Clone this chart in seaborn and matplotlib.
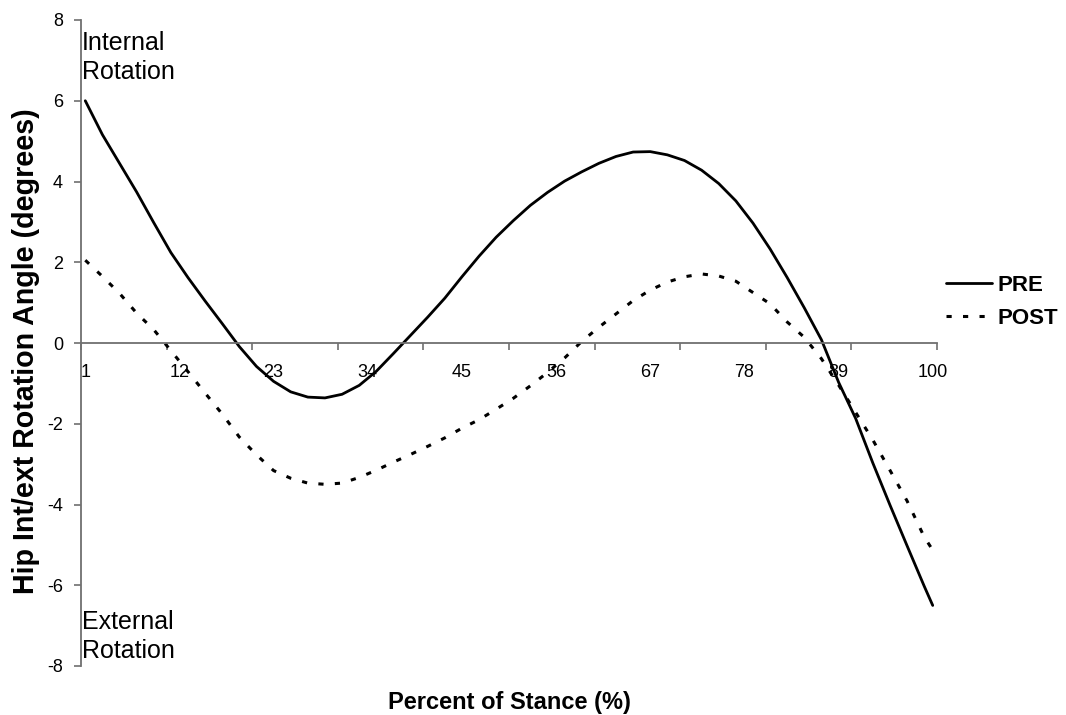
import numpy as np
import pandas as pd
import matplotlib
matplotlib.use("Agg")
import matplotlib.pyplot as plt
import seaborn as sns

# ---- data ----
percent = [1, 3, 5, 7, 9, 11, 13, 15, 17, 19, 21, 23, 25, 27, 29, 31, 33, 35,
           37, 39, 41, 43, 45, 47, 49, 51, 53, 55, 57, 59, 61, 63, 65, 67, 69,
           71, 73, 75, 77, 79, 81, 83, 85, 87, 89, 91, 93, 95, 97, 99, 100]
pre = [6.00, 5.16, 4.45, 3.74, 2.98, 2.24, 1.62, 1.04, 0.48, -0.09, -0.58,
       -0.95, -1.21, -1.34, -1.36, -1.27, -1.05, -0.70, -0.26, 0.19, 0.64,
       1.11, 1.64, 2.15, 2.62, 3.03, 3.41, 3.73, 4.01, 4.24, 4.45, 4.62, 4.73,
       4.74, 4.66, 4.52, 4.28, 3.95, 3.52, 2.97, 2.33, 1.62, 0.87, 0.08,
       -0.97, -1.87, -2.97, -4.01, -5.02, -6.02, -6.50]
post = [2.05, 1.65, 1.23, 0.74, 0.33, -0.19, -0.71, -1.24, -1.76, -2.33,
        -2.77, -3.16, -3.35, -3.47, -3.50, -3.47, -3.33, -3.15, -2.95, -2.76,
        -2.56, -2.35, -2.11, -1.90, -1.64, -1.37, -1.06, -0.73, -0.37, 0.04,
        0.39, 0.72, 1.05, 1.31, 1.51, 1.64, 1.71, 1.66, 1.53, 1.25, 0.97, 0.52,
        0.14, -0.39, -1.04, -1.72, -2.40, -3.15, -3.91, -4.80, -5.13]
xtick_labels = [1, 12, 23, 34, 45, 56, 67, 78, 89, 100]
yticks = [-8, -6, -4, -2, 0, 2, 4, 6, 8]

df = pd.DataFrame({"Percent": percent, "PRE": pre, "POST": post})

sns.set_style("white")
plt.rcParams["font.family"] = ["Liberation Sans", "DejaVu Sans"]
plt.rcParams["text.color"] = "black"
plt.rcParams["xtick.color"] = "#707070"
plt.rcParams["ytick.color"] = "#707070"
plt.rcParams["xtick.labelcolor"] = "black"
plt.rcParams["ytick.labelcolor"] = "black"

fig = plt.figure(figsize=(10.66, 7.15), dpi=100)
ax = fig.add_axes([81 / 1066, 1 - 666 / 715, (937 - 81) / 1066, (666 - 20) / 715])

sns.lineplot(data=df, x="Percent", y="PRE", ax=ax, color="black",
             linewidth=2.0, label="PRE")
sns.lineplot(data=df, x="Percent", y="POST", ax=ax, color="black",
             linewidth=2.2, linestyle=(0, (1.7, 3.7)), label="POST")

ax.set_xlim(0.5, 100.5)
ax.set_ylim(-8, 8)

# spines
for s in ["top", "right"]:
    ax.spines[s].set_visible(False)
ax.spines["bottom"].set_position(("data", 0))
for s in ["left", "bottom"]:
    ax.spines[s].set_color("#707070")
    ax.spines[s].set_linewidth(1.3)

# x ticks: labels at categories, tick marks at category boundaries
ax.set_xticks(xtick_labels)
ax.set_xticklabels([str(v) for v in xtick_labels], fontsize=13)
ax.set_xticks([0.5 + 10 * k for k in range(11)], minor=True)
ax.tick_params(axis="x", which="major", length=0, pad=15)
ax.tick_params(axis="x", which="minor", length=5, width=1.2,
               direction="out", bottom=True)

ax.set_yticks(yticks)
ax.set_yticklabels([str(v) for v in yticks], fontsize=13)
ax.tick_params(axis="y", which="major", length=5, width=1.2,
               direction="out", left=True, pad=8)

ax.set_xlabel("")
ax.set_ylabel("")
fig.text(509 / 1066, 1 - 702 / 715, "Percent of Stance (%)", fontsize=17,
         fontweight="bold", ha="center", va="center")
fig.text(26 / 1066, 1 - 351 / 715, "Hip Int/ext Rotation Angle (degrees)",
         fontsize=20.6, fontweight="bold", ha="center", va="center",
         rotation=90)

fig.text(82 / 1066, 1 - 31 / 715, "Internal\nRotation", fontsize=18,
         ha="left", va="top", linespacing=1.25)
fig.text(82 / 1066, 1 - 610 / 715, "External\nRotation", fontsize=18,
         ha="left", va="top", linespacing=1.25)

leg = ax.legend(loc="center left", bbox_to_anchor=(946 / 1066, 1 - 302 / 715),
                bbox_transform=fig.transFigure, frameon=False, borderpad=0,
                prop={"weight": "bold", "size": 16}, handlelength=2.05,
                handletextpad=0.25, labelspacing=0.55, borderaxespad=0)

fig.savefig("out.png", dpi=100)
